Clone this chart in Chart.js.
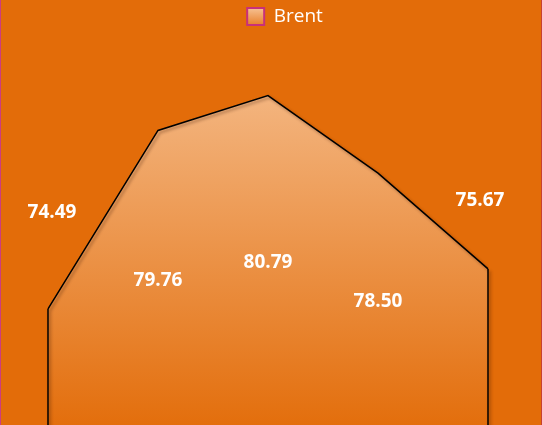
<!DOCTYPE html>
<html>
<head>
<meta charset="utf-8">
<script src="https://cdn.jsdelivr.net/npm/chart.js@4"></script>
<style>
  html, body { margin: 0; padding: 0; overflow: hidden; background: #E36C09; }
  #wrap { position: relative; width: 542px; height: 427px; }
  #wrap::before, #wrap::after { content: ''; position: absolute; top: 0; bottom: 0; width: 1px; }
  #wrap::before { left: 0; background: #CC3D80; }
  #wrap::after { right: 0; background: #C8402E; }
</style>
</head>
<body>
<div id="wrap"><canvas id="chart"></canvas></div>
<script>
const categories = ['1', '2', '3', '4', '5'];
const brentValues = [74.49, 79.76, 80.79, 78.50, 75.67];
const seriesName = 'Brent';

// label placement: edges sit above the point, middle ones halfway down the area
const edgeLabelShift = { 0: [4, -98], 4: [-8, -70] };

const labelFont = '"Open Sans", sans-serif';

function areaGradient(ctx, top, bottom) {
    const g = ctx.createLinearGradient(0, top, 0, bottom);
    g.addColorStop(0, '#F6C193');
    g.addColorStop(1, '#E36E0C');
    return g;
}

const edgesAndLabels = {
    id: 'edgesAndLabels',
    beforeDatasetDraw(chart) {
        const ctx = chart.ctx;
        ctx.save();
        ctx.shadowColor = 'rgba(60, 20, 0, 0.45)';
        ctx.shadowOffsetX = 2;
        ctx.shadowOffsetY = 2;
        ctx.shadowBlur = 3;
    },
    afterDatasetDraw(chart) {
        const ctx = chart.ctx;
        const pts = chart.getDatasetMeta(0).data;
        const bottom = chart.chartArea.bottom;
        // vertical sides of the area
        ctx.strokeStyle = '#000';
        ctx.lineWidth = 1.5;
        ctx.beginPath();
        ctx.moveTo(pts[0].x, pts[0].y);
        ctx.lineTo(pts[0].x, bottom + 5);
        ctx.moveTo(pts[pts.length - 1].x, pts[pts.length - 1].y);
        ctx.lineTo(pts[pts.length - 1].x, bottom + 5);
        ctx.stroke();
        ctx.restore();
    },
    afterDatasetsDraw(chart) {
        const ctx = chart.ctx;
        const pts = chart.getDatasetMeta(0).data;
        const bottom = chart.chartArea.bottom;
        ctx.save();
        ctx.fillStyle = '#fff';
        ctx.font = 'bold 19px ' + labelFont;
        ctx.textAlign = 'center';
        ctx.textBaseline = 'alphabetic';
        pts.forEach((p, i) => {
            let x = p.x, y;
            if (edgeLabelShift[i]) {
                x += edgeLabelShift[i][0];
                y = p.y + edgeLabelShift[i][1];
            } else {
                y = (p.y + bottom) / 2;
            }
            ctx.fillText(brentValues[i].toFixed(2), x, y + 7);
        });
        ctx.restore();
    },
    afterUpdate(chart) {
        // nudge legend to the right like the original
        chart.legend.left += 17;
        chart.legend.right += 17;
    }
};

new Chart(document.getElementById('chart'), {
    type: 'line',
    data: {
        labels: categories,
        datasets: [{
            label: seriesName,
            data: brentValues,
            borderColor: '#000',
            borderWidth: 1.5,
            tension: 0,
            pointRadius: 0,
            fill: 'start',
            backgroundColor: function (c) {
                const area = c.chart.chartArea;
                if (!area) return '#F0A060';
                return areaGradient(c.chart.ctx, area.top, area.bottom);
            }
        }]
    },
    options: {
        responsive: true,
        maintainAspectRatio: false,
        animation: false,
        layout: { padding: { left: 48, right: 54, top: 0, bottom: 0 } },
        scales: {
            x: { display: false, offset: false },
            y: { display: false, min: 71, max: 82.55 }
        },
        plugins: {
            tooltip: { enabled: false },
            legend: {
                position: 'top',
                labels: {
                    color: '#fff',
                    font: { family: labelFont, size: 19 },
                    boxWidth: 17,
                    boxHeight: 17,
                    padding: 7,
                    generateLabels(chart) {
                        const g = chart.ctx.createLinearGradient(0, 8, 0, 25);
                        g.addColorStop(0, '#F6C193');
                        g.addColorStop(1, '#E8802A');
                        return [{
                            text: seriesName,
                            fillStyle: g,
                            strokeStyle: '#C8307A',
                            lineWidth: 2,
                            fontColor: '#fff',
                            hidden: false,
                            datasetIndex: 0
                        }];
                    }
                }
            }
        }
    },
    plugins: [edgesAndLabels]
});
</script>
</body>
</html>
